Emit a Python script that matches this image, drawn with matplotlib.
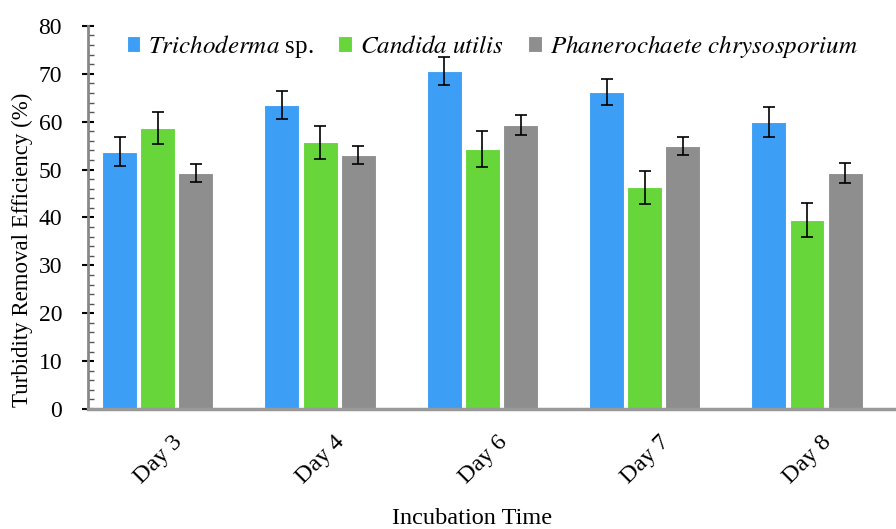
import matplotlib.pyplot as plt
import matplotlib.transforms as mtransforms
import numpy as np
from matplotlib.ticker import MultipleLocator

plt.rcParams['font.family'] = 'Liberation Serif'
plt.rcParams['mathtext.fontset'] = 'stix'

days = ['Day 3', 'Day 4', 'Day 6', 'Day 7', 'Day 8']
species = [r'$\it{Trichoderma}$ sp.', r'$\it{Candida\ utilis}$', r'$\it{Phanerochaete\ chrysosporium}$']
trichoderma = [53.7, 63.5, 70.6, 66.2, 59.9]
trichoderma_err = [3.0, 2.9, 3.0, 2.8, 3.1]
candida = [58.7, 55.7, 54.3, 46.3, 39.5]
candida_err = [3.4, 3.5, 3.7, 3.4, 3.5]
phanero = [49.3, 53.0, 59.3, 54.9, 49.3]
phanero_err = [1.9, 1.9, 2.0, 1.9, 2.0]
colors = ['#3c9ef5', '#66d63a', '#8e8e8e']

fig = plt.figure(figsize=(8.96, 5.29), dpi=100)
ax = fig.add_axes([0.098, 0.2268, 0.902, 0.7242])

x = np.arange(len(days))
width = 0.215
step = 0.235
series = [(trichoderma, trichoderma_err), (candida, candida_err), (phanero, phanero_err)]
for i, (vals, errs) in enumerate(series):
    ax.bar(x + (i - 1) * step, vals, width, yerr=errs, color=colors[i], edgecolor='white',
           linewidth=0.8, label=species[i], zorder=2,
           error_kw=dict(ecolor='black', elinewidth=1.2, capsize=4, capthick=1.2))

ax.set_xlim(-0.431, 4.548)
ax.set_ylim(0, 80)
ax.set_xticks(x)
ax.set_xticklabels(days, rotation=45, ha='right', rotation_mode='anchor', fontsize=17.5)
ax.tick_params(axis='x', length=0, pad=12)
# shift rotated day labels right, like the original
shift = mtransforms.ScaledTranslation(10 / 72, -4 / 72, fig.dpi_scale_trans)
for lab in ax.get_xticklabels():
    lab.set_transform(lab.get_transform() + shift)

ax.yaxis.set_major_locator(MultipleLocator(10))
ax.yaxis.set_minor_locator(MultipleLocator(2))
ax.tick_params(axis='y', which='major', direction='inout', length=9, width=1.5, color='black', labelsize=17, pad=14)
ax.tick_params(axis='y', which='minor', direction='in', length=4, width=1, color='#555555')

for s in ['top', 'right']:
    ax.spines[s].set_visible(False)
ax.spines['left'].set_color('#888888')
ax.spines['left'].set_linewidth(2)
ax.spines['bottom'].set_color('#999999')
ax.spines['bottom'].set_linewidth(2.5)
ax.spines['bottom'].set_zorder(3)

ax.set_xlabel('Incubation Time', fontsize=17.5)
ax.xaxis.set_label_coords(0.476, -0.258)
ax.set_ylabel('Turbidity Removal Efficiency (%)', fontsize=16.5)
ax.yaxis.set_label_coords(-0.068, 0.415)

ax.legend(loc='upper center', bbox_to_anchor=(0.5, 1.04), ncol=3, frameon=False, fontsize=18,
          handlelength=0.55, handleheight=0.6, handletextpad=0.3, columnspacing=1.0)

fig.savefig('out.png', dpi=100)
